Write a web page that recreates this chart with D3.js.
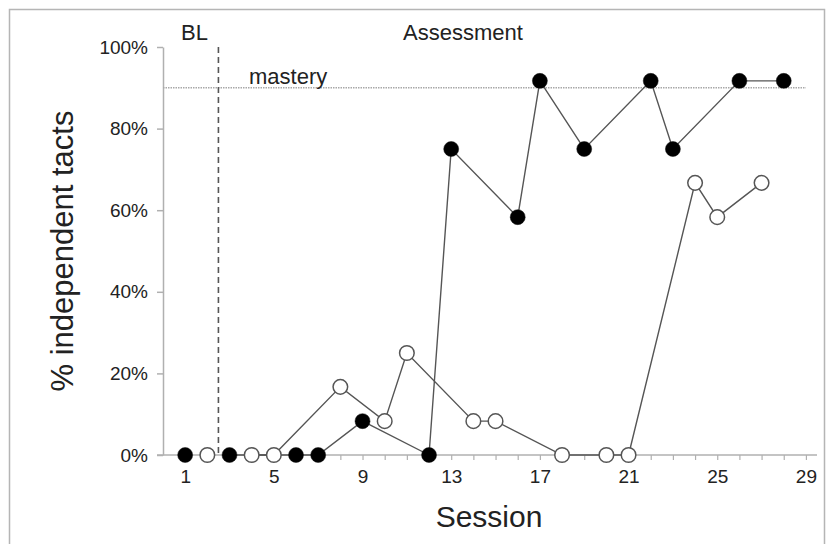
<!DOCTYPE html>
<html>
<head>
<meta charset="utf-8">
<script src="https://cdn.jsdelivr.net/npm/d3@7"></script>
<style>
  html, body { margin: 0; padding: 0; background: #fff; }
  svg { display: block; }
  text { font-family: "Liberation Sans", Arial, Helvetica, sans-serif; fill: #222; }
</style>
</head>
<body>
<svg id="chart" width="830" height="544"></svg>
<script>
// ---- data ----
const filledSessions = [1, 3, 6, 7, 9, 12, 13, 16, 17, 19, 22, 23, 26, 28];
const filledValues   = [0, 0, 0, 0, 8.3, 0, 75, 58.3, 91.7, 75, 91.7, 75, 91.7, 91.7];
const openSessions = [2, 4, 5, 8, 10, 11, 14, 15, 18, 20, 21, 24, 25, 27];
const openValues   = [0, 0, 0, 16.7, 8.3, 25, 8.3, 8.3, 0, 0, 0, 66.7, 58.3, 66.7];
const phaseChange = 2.5;
const masteryLevel = 90;
const xTickValues = [1, 5, 9, 13, 17, 21, 25, 29];
const yTickValues = [0, 20, 40, 60, 80, 100];
const phaseLabels = ["BL", "Assessment"];

const svg = d3.select("#chart");

// frame
svg.append("path")
  .attr("d", "M9.5,544 L9.5,9.5 L824.5,9.5 L824.5,544")
  .attr("fill", "none").attr("stroke", "#b5b5b5").attr("stroke-width", 1.5);

const x = d3.scaleLinear().domain([0, 29.5]).range([163, 817]);
const y = d3.scaleLinear().domain([0, 100]).range([455, 47]);

const axisColor = "#b0b0b0";

// y axis
const yAxis = d3.axisLeft(y).tickValues(yTickValues).tickFormat(d => d + "%").tickSize(6).tickSizeOuter(0).tickPadding(9);
const gy = svg.append("g").attr("transform", "translate(163,0)").call(yAxis);
gy.select(".domain").attr("stroke", axisColor).attr("stroke-width", 1.5);
gy.selectAll(".tick line").attr("stroke", axisColor).attr("stroke-width", 1.5);
gy.selectAll(".tick text").attr("font-size", 19).attr("fill", "#222")
  .attr("font-family", "Liberation Sans, Arial, sans-serif");

// x axis: minor ticks at every session, labels every 4
const allSessions = d3.range(1, 30);
const xAxisMinor = d3.axisBottom(x).tickValues(allSessions).tickFormat("").tickSize(5).tickSizeOuter(0);
const gxm = svg.append("g").attr("transform", "translate(0,455)").call(xAxisMinor);
gxm.select(".domain").remove();
gxm.selectAll(".tick line").attr("stroke", axisColor).attr("stroke-width", 1.2);

const xAxis = d3.axisBottom(x).tickValues(xTickValues).tickFormat(d3.format("d")).tickSize(0).tickSizeOuter(0).tickPadding(15);
const gx = svg.append("g").attr("transform", "translate(0,455)").call(xAxis);
gx.select(".domain").attr("stroke", axisColor).attr("stroke-width", 1.5)
  .attr("d", `M${x(0) - 6},0H${x(29.5)}`);
gx.selectAll(".tick text").attr("font-size", 19).attr("fill", "#222")
  .attr("font-family", "Liberation Sans, Arial, sans-serif");

// mastery line
svg.append("line")
  .attr("x1", x(0)).attr("x2", x(29))
  .attr("y1", y(masteryLevel)).attr("y2", y(masteryLevel))
  .attr("stroke", "#a8a8a8").attr("stroke-width", 1.6).attr("stroke-dasharray", "1.5,1");

// phase change line
svg.append("line")
  .attr("x1", x(phaseChange)).attr("x2", x(phaseChange))
  .attr("y1", y(100)).attr("y2", y(0))
  .attr("stroke", "#555").attr("stroke-width", 1.6).attr("stroke-dasharray", "6,4");

// texts
svg.append("text").attr("x", 181).attr("y", 40).attr("font-size", 22).text(phaseLabels[0]);
svg.append("text").attr("x", 463).attr("y", 40).attr("font-size", 22).attr("text-anchor", "middle").text(phaseLabels[1]);
svg.append("text").attr("x", 249).attr("y", 84).attr("font-size", 22).text("mastery");
svg.append("text").attr("transform", "translate(73,251) rotate(-90)").attr("text-anchor", "middle")
  .attr("font-size", 31).text("% independent tacts");
svg.append("text").attr("x", 489).attr("y", 527).attr("text-anchor", "middle").attr("font-size", 30).text("Session");

// series
function seriesData(sessions, values) {
  return sessions.map((s, i) => ({ s, v: values[i] }));
}
const filled = seriesData(filledSessions, filledValues);
const open = seriesData(openSessions, openValues);

const line = d3.line().x(d => x(d.s)).y(d => y(d.v));
const lineColor = "#555";

[filled, open].forEach(data => {
  const segA = data.filter(d => d.s < phaseChange);
  const segB = data.filter(d => d.s > phaseChange);
  [segA, segB].forEach(seg => {
    if (seg.length > 1) {
      svg.append("path").datum(seg).attr("d", line)
        .attr("fill", "none").attr("stroke", lineColor).attr("stroke-width", 1.4);
    }
  });
});

svg.append("g").selectAll("circle").data(open).join("circle")
  .attr("cx", d => x(d.s)).attr("cy", d => y(d.v)).attr("r", 7.3)
  .attr("fill", "#fff").attr("stroke", "#555").attr("stroke-width", 1.5);

svg.append("g").selectAll("circle").data(filled).join("circle")
  .attr("cx", d => x(d.s)).attr("cy", d => y(d.v)).attr("r", 7.5)
  .attr("fill", "#000").attr("stroke", "#111").attr("stroke-width", 0.5);
</script>
</body>
</html>
